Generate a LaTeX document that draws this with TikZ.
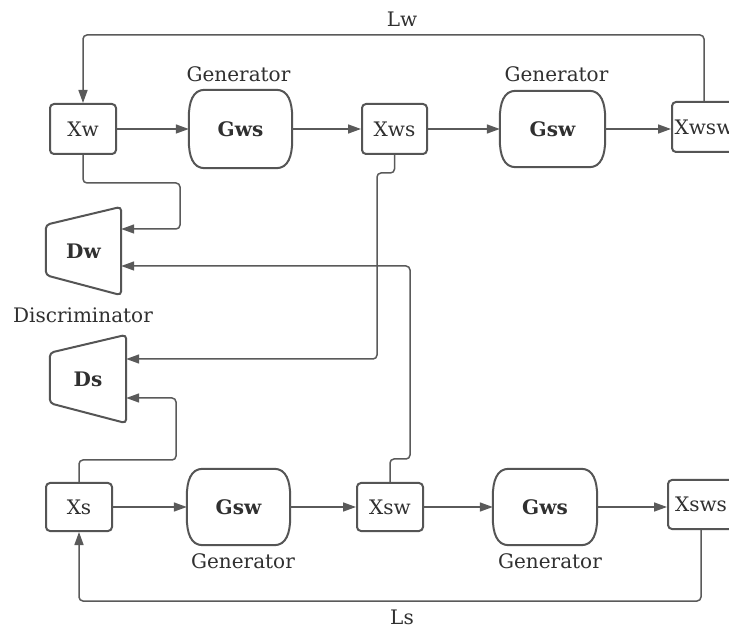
\documentclass[tikz,border=0pt]{standalone}
\usepackage{fontspec}
\setmainfont{DejaVu Serif}
\usetikzlibrary{arrows.meta,calc}
\definecolor{edgegray}{HTML}{5A5A5A}
\definecolor{framegray}{HTML}{555555}
\definecolor{inkgray}{HTML}{303030}

% Outline of a generator block: flat top and bottom, soft rounded sides
\newcommand\drawgen[1]{%
  \path[outline] ($(#1.north west)+(16,0)$) -- ($(#1.north east)+(-16,0)$)
    .. controls ($(#1.north east)+(-4,0)$) and ($(#1.north east)+(0,12)$) .. ($(#1.north east)+(0,28)$)
    -- ($(#1.south east)+(0,-28)$)
    .. controls ($(#1.south east)+(0,-12)$) and ($(#1.south east)+(-4,0)$) .. ($(#1.south east)+(-16,0)$)
    -- ($(#1.south west)+(16,0)$)
    .. controls ($(#1.south west)+(4,0)$) and ($(#1.south west)+(0,-12)$) .. ($(#1.south west)+(0,-28)$)
    -- ($(#1.north west)+(0,28)$)
    .. controls ($(#1.north west)+(0,12)$) and ($(#1.north west)+(4,0)$) .. cycle;}

% Outline of a discriminator block: trapezoid widening to the right
\newcommand\drawdisc[1]{%
  \path[outline, rounded corners=4pt] ($(#1.north west)+(0,18)$) -- (#1.north east)
    -- (#1.south east) -- ($(#1.south west)+(0,-20)$) -- cycle;}

\begin{document}
\begin{tikzpicture}[x=1pt,y=-1pt,
  every node/.style={text=inkgray, font=\fontsize{20}{23}\selectfont},
  databox/.style={draw=framegray, line width=2pt, rounded corners=4pt,
    minimum width=66pt, minimum height=50pt, inner sep=0pt},
  genbox/.style={minimum width=103pt, minimum height=78pt, inner sep=0pt,
    font=\fontsize{20}{23}\selectfont\bfseries},
  discbox/.style={minimum width=75pt, minimum height=88pt, inner sep=0pt,
    font=\fontsize{20}{23}\selectfont\bfseries},
  caption/.style={anchor=base},
  outline/.style={draw=framegray, line width=2pt},
  link/.style={draw=edgegray, line width=1.5pt, rounded corners=4pt},
  arrow/.style={link, -{Triangle[length=13pt,width=9pt]}}
]
\fill[white] (0,0) rectangle (729,628);
\useasboundingbox (0,0) rectangle (729,628);

% upper chain
\node[databox] (Xw) at (83,129) {Xw};
\node[genbox] (Gws1) at (240.5,129) {Gws};
\node[databox, minimum width=65pt] (Xws) at (394.5,129) {Xws};
\node[genbox, minimum width=105pt, minimum height=76pt] (Gsw1) at (552.5,129) {Gsw};
\node[databox, minimum width=64pt] (Xwsw) at (704,127) {Xwsw};

% discriminators
\node[discbox] (Dw) at (83.5,251) {Dw};
\node[discbox, minimum width=76pt] (Ds) at (88,379) {Ds};

% lower chain
\node[databox, minimum height=48pt] (Xs) at (79,507) {Xs};
\node[genbox, minimum height=76pt] (Gsw2) at (238.5,507) {Gsw};
\node[databox, minimum height=48pt] (Xsw) at (390,507) {Xsw};
\node[genbox, minimum width=104pt, minimum height=76pt] (Gws2) at (545,507) {Gws};
\node[databox, minimum width=66pt, minimum height=49pt] (Xsws) at (701,504.5) {Xsws};

\drawgen{Gws1}
\drawgen{Gsw1}
\drawgen{Gsw2}
\drawgen{Gws2}
\drawdisc{Dw}
\drawdisc{Ds}

% captions
\node[caption] (capGws1) at (238.5,82) {Generator};
\node[caption] (capGsw1) at (556.5,82) {Generator};
\node[caption] (capDisc) at (83,323) {Discriminator};
\node[caption] (capGsw2) at (243,568) {Generator};
\node[caption] (capGws2) at (550,568) {Generator};
\node[caption] (capLw) at (402,27) {Lw};
\node[caption] (capLs) at (402,624) {Ls};

% forward flow
\draw[arrow] (Xw) -- (Gws1);
\draw[arrow] (Gws1) -- (Xws);
\draw[arrow] (Xws) -- (Gsw1);
\draw[arrow] (Gsw1.east) -- (Xwsw.west |- Gsw1.east);
\draw[arrow] (Xs) -- (Gsw2);
\draw[arrow] (Gsw2) -- (Xsw);
\draw[arrow] (Xsw) -- (Gws2);
\draw[arrow] (Gws2.east) -- (Xsws.west |- Gws2.east);

% cycle losses
\draw[arrow] (Xwsw.north) |- (Xw.north |- 0,35) -- (Xw.north);
\draw[arrow] (Xsws.south) |- (Xs.south |- 0,601) -- (Xs.south);

% inputs to the discriminators
\draw[arrow] (Xw.south) |- (180,183) |- (Dw.east |- 0,229);
\draw[arrow] (Xsw.north) -- ++(0,-23) -| (410,266) -- (Dw.east |- 0,266);
\draw[arrow] (Xws.south) -- ++(0,18) -| (377,359) -- (Ds.east |- 0,359);
\draw[arrow] (Xs.north) |- (176,460) |- (Ds.east |- 0,398);
\end{tikzpicture}
\end{document}
